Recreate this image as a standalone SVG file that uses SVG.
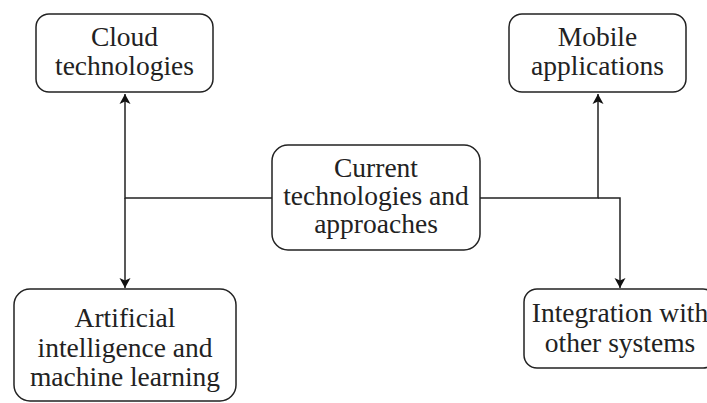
<svg xmlns="http://www.w3.org/2000/svg" width="707" height="403" viewBox="0 0 707 403">
<style>
.box{fill:#fff;stroke:#222;stroke-width:1.5}
.t{font-family:"Liberation Serif","Times New Roman",serif;font-size:27.5px;fill:#222;text-anchor:middle}
.c{fill:none;stroke:#222;stroke-width:1.5}
</style>
<defs>
<marker id="ah" markerWidth="11" markerHeight="12" refX="10" refY="6" orient="auto" markerUnits="userSpaceOnUse">
<path d="M0,0.5 L10,6 L0,11.5 L2.5,6 Z" fill="#111"/>
</marker>
</defs>
<rect width="707" height="403" fill="#fff"/>
<g id="connectors">
<path class="c" d="M272,198 H125 V94" marker-end="url(#ah)"/>
<path class="c" d="M125,198 V288" marker-end="url(#ah)"/>
<path class="c" d="M480,198 H598 V94" marker-end="url(#ah)"/>
<path class="c" d="M598,198 H620 V288" marker-end="url(#ah)"/>
</g>
<g id="cloud">
<rect class="box" x="36" y="14" width="177" height="78" rx="13"/>
<text class="t" x="124.5" y="46">Cloud</text>
<text class="t" x="124.5" y="75">technologies</text>
</g>
<g id="mobile">
<rect class="box" x="509" y="14" width="177" height="78" rx="13"/>
<text class="t" x="597.5" y="46">Mobile</text>
<text class="t" x="597.5" y="75">applications</text>
</g>
<g id="current">
<rect class="box" x="272" y="145" width="208" height="105" rx="16"/>
<text class="t" x="376" y="177">Current</text>
<text class="t" x="376" y="205">technologies and</text>
<text class="t" x="376" y="233">approaches</text>
</g>
<g id="ai">
<rect class="box" x="14" y="289" width="222" height="112" rx="16"/>
<text class="t" x="125" y="327">Artificial</text>
<text class="t" x="125" y="357">intelligence and</text>
<text class="t" x="125" y="386">machine learning</text>
</g>
<g id="integration">
<rect class="box" x="524" y="289" width="192" height="79" rx="13"/>
<text class="t" x="620" y="322">Integration with</text>
<text class="t" x="620" y="352">other systems</text>
</g>
</svg>
